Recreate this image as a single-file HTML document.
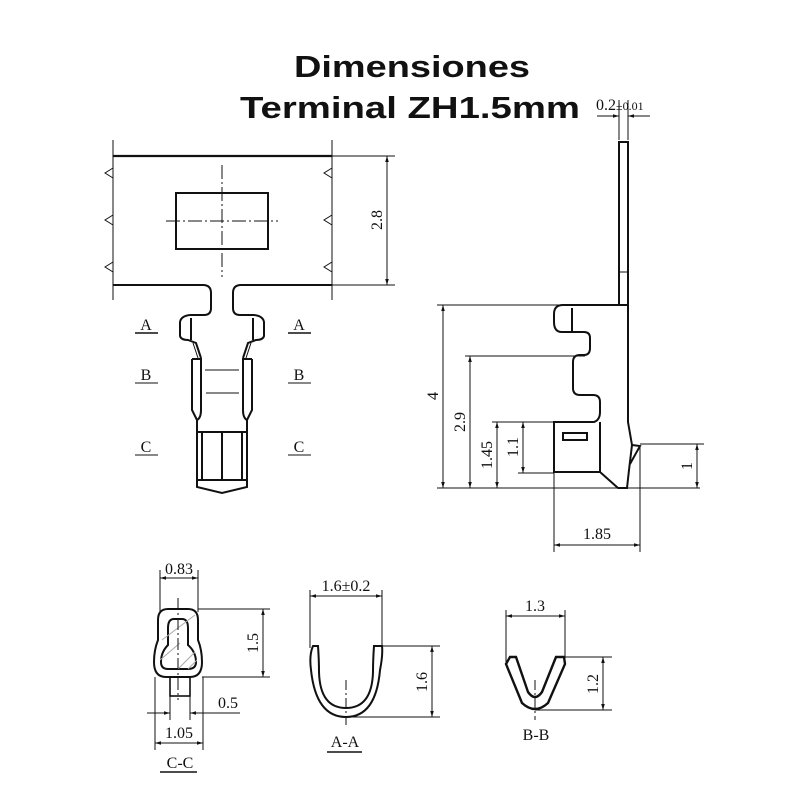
<!DOCTYPE html>
<html><head><meta charset="utf-8"><style>
html,body{margin:0;padding:0;background:#fff;}
svg{display:block;}
.t{font-family:"Liberation Sans",sans-serif;font-weight:bold;fill:#111;}
.d{font-family:"Liberation Serif",serif;font-size:16px;fill:#111;}
</style></head><body>
<svg width="800" height="800" viewBox="0 0 800 800" xmlns="http://www.w3.org/2000/svg">
<defs>
<marker id="a" viewBox="0 0 10 10" refX="10" refY="5" markerWidth="10" markerHeight="6" orient="auto-start-reverse" markerUnits="userSpaceOnUse"><path d="M0,2 L10,5 L0,8 z" fill="#111"/></marker>
</defs>
<rect width="800" height="800" fill="#fff"/>
<text class="t" x="412" y="77" font-size="31" text-anchor="middle" textLength="236" lengthAdjust="spacingAndGlyphs">Dimensiones</text>
<text class="t" x="410" y="118" font-size="31" text-anchor="middle" textLength="340" lengthAdjust="spacingAndGlyphs">Terminal ZH1.5mm</text>

<g fill="none" stroke="#111" stroke-width="1">
<line x1="113" y1="156" x2="332" y2="156" stroke-width="2.2"/>
<path d="M113,140 V300 M332,140 V300"/>
<path d="M113,168 l-8,5 l8,5 M113,215 l-8,5 l8,5 M113,262 l-8,5 l8,5 M332,168 l-8,5 l8,5 M332,215 l-8,5 l8,5 M332,262 l-8,5 l8,5"/>
<rect x="176" y="193" width="92" height="56" stroke-width="2"/>
<path d="M222,165 V277 M166,221 H278" stroke-dasharray="14,3,2,3"/>
<path d="M113,285 H203 Q211,285 211,293 V308 Q211,315 204,315 H190" stroke-width="2"/>
<path d="M332,285 H241 Q233,285 233,293 V308 Q233,315 240,315 H254" stroke-width="2"/>
<path d="M190,315 Q181,316 180,322 V336 Q181,340 188,340 L196,343 L201,358 M191,340 V318" stroke-width="2"/>
<path d="M254,315 Q263,316 264,322 V336 Q263,340 256,340 L248,343 L243,358 M253,340 V318" stroke-width="2"/>
<path d="M193,343 L198,358 M251,343 L246,358"/>
<path d="M192,359 H201 V410 Q201,418 197,420 V432 M252,359 H243 V410 Q243,418 247,420 V432" stroke-width="2"/>
<path d="M192,359 V410 L197,420 M252,359 V410 L247,420" stroke-width="2"/>
<path d="M205,370 H239 M206,393 H239"/>
<path d="M197,420 V487 L222,493 L247,487 V420 M197,432 H247 M202,432 V480 M242,432 V480 M222,432 V480 M197,480 H247" stroke-width="2"/>
<path d="M332,156 H395 M332,285 H395"/>
<line x1="387" y1="156" x2="387" y2="285" marker-start="url(#a)" marker-end="url(#a)"/>
<path d="M135,383 H158 M288,383 H311 M135,455 H158 M288,455 H311"/>
<path d="M135,333 H158 M288,333 H311" stroke-width="1.6"/>

<rect x="619" y="142" width="9" height="163" stroke-width="2"/>
<line x1="619" y1="272" x2="628" y2="272"/>
<path d="M619,100 V140 M628,100 V140"/>
<line x1="597" y1="116" x2="619" y2="116" marker-end="url(#a)"/>
<line x1="650" y1="116" x2="628" y2="116" marker-end="url(#a)"/>
<path d="M563,305 H628 V422 L632,445 L629,470 L627,488 H618 L600,472 H554 V422 H594 Q600,420 600,412 V402 Q600,395 593,395 H580 Q573,395 573,388 V362 Q573,355 580,355 H584 Q590,355 590,348 V338 Q590,332 584,332 H562 Q554,332 554,322 V314 Q554,305 563,305 Z" stroke-width="2"/>
<line x1="572" y1="308" x2="572" y2="331" stroke-width="2"/>
<path d="M632,445 L640,446 L630,464" stroke-width="2"/>
<line x1="600" y1="422" x2="600" y2="472" stroke-width="2"/>
<rect x="563" y="433" width="24" height="7" stroke-width="2"/>
<path d="M437,488 H700 M437,305 H563 M465,356 H585 M492,422 H554 M518,473 H554 M640,444 H704"/>
<line x1="443" y1="305" x2="443" y2="488" marker-start="url(#a)" marker-end="url(#a)"/>
<line x1="470" y1="356" x2="470" y2="488" marker-start="url(#a)" marker-end="url(#a)"/>
<line x1="497" y1="422" x2="497" y2="488" marker-start="url(#a)" marker-end="url(#a)"/>
<line x1="523" y1="422" x2="523" y2="473" marker-start="url(#a)" marker-end="url(#a)"/>
<line x1="697" y1="444" x2="697" y2="488" marker-start="url(#a)" marker-end="url(#a)"/>
<path d="M554,473 V552 M640,446 V552"/>
<line x1="554" y1="545" x2="640" y2="545" marker-start="url(#a)" marker-end="url(#a)"/>

<path d="M168,609 H188 Q198,609 198,620 V640 Q202,650 202,662 Q202,677 190,677 H166 Q154,677 154,662 Q154,650 158,640 V620 Q158,609 168,609 Z" stroke-width="2"/>
<path d="M174,619 H182 Q188,619 188,628 V645 Q196,652 196,662 Q196,669 188,669 H168 Q161,669 161,662 Q161,652 168,645 V628 Q168,619 174,619 Z" stroke-width="2"/>
<path d="M162,640 L195,615 M160,660 L180,643 M188,669 L197,660 M178,669 L195,652" stroke="#aaa"/>
<rect x="170" y="677" width="20" height="19" stroke-width="1.6"/>
<path d="M178,598 V700" stroke-dasharray="12,3,2,3"/>
<path d="M160,570 V612 M198,570 V612 M198,609 H270 M202,677 H270 M170,696 V720 M190,696 V720 M155,677 V750 M203,677 V750"/>
<line x1="160" y1="578" x2="198" y2="578" marker-start="url(#a)" marker-end="url(#a)"/>
<line x1="263" y1="609" x2="263" y2="677" marker-start="url(#a)" marker-end="url(#a)"/>
<path d="M147,713 H170 M190,713 H240"/>
<line x1="150" y1="713" x2="170" y2="713" marker-end="url(#a)"/>
<line x1="210" y1="713" x2="190" y2="713" marker-end="url(#a)"/>
<line x1="155" y1="743" x2="203" y2="743" marker-start="url(#a)" marker-end="url(#a)"/>
<line x1="160" y1="772" x2="197" y2="772" stroke-width="1.6"/>

<path d="M313,646 L318,646 Q319,660 319,672 Q320,708 346,708 Q372,708 373,672 Q373,660 374,646 L382,646 Q383,655 380,670 Q376,717 346,717 Q316,717 311,670 Q309,655 313,646 Z" stroke-width="2"/>
<path d="M346,680 V725" stroke-dasharray="10,3,2,3"/>
<path d="M310,590 V648 M382,590 V648 M382,646 H440 M346,717 H440"/>
<line x1="310" y1="596" x2="382" y2="596" marker-start="url(#a)" marker-end="url(#a)"/>
<line x1="432" y1="646" x2="432" y2="717" marker-start="url(#a)" marker-end="url(#a)"/>
<line x1="327" y1="752" x2="362" y2="752" stroke-width="1.6"/>

<path d="M510,657 L516,657 L528,692 Q535,702 542,692 L556,657 L564,657 L565,664 L548,703 Q535,715 522,703 L506,664 Z" stroke-width="2.4"/>
<path d="M535,680 V720" stroke-dasharray="10,3,2,3"/>
<path d="M506,610 V662 M565,610 V660 M563,657 H612 M535,710 H612"/>
<line x1="506" y1="616" x2="565" y2="616" marker-start="url(#a)" marker-end="url(#a)"/>
<line x1="603" y1="657" x2="603" y2="710" marker-start="url(#a)" marker-end="url(#a)"/>
</g>

<text class="d" x="146" y="330" text-anchor="middle">A</text>
<text class="d" x="299" y="330" text-anchor="middle">A</text>
<text class="d" x="146" y="380" text-anchor="middle">B</text>
<text class="d" x="299" y="380" text-anchor="middle">B</text>
<text class="d" x="146" y="452" text-anchor="middle">C</text>
<text class="d" x="299" y="452" text-anchor="middle">C</text>
<text class="d" transform="translate(382,220) rotate(-90)" text-anchor="middle">2.8</text>
<text class="d" x="596" y="110" font-size="15">0.2<tspan font-size="12">±0.01</tspan></text>
<text class="d" transform="translate(438,396) rotate(-90)" text-anchor="middle">4</text>
<text class="d" transform="translate(465,422) rotate(-90)" text-anchor="middle">2.9</text>
<text class="d" transform="translate(492,455) rotate(-90)" text-anchor="middle">1.45</text>
<text class="d" transform="translate(518,447) rotate(-90)" text-anchor="middle">1.1</text>
<text class="d" transform="translate(692,466) rotate(-90)" text-anchor="middle">1</text>
<text class="d" x="597" y="539" text-anchor="middle">1.85</text>
<text class="d" x="179" y="574" text-anchor="middle">0.83</text>
<text class="d" transform="translate(258,643) rotate(-90)" text-anchor="middle">1.5</text>
<text class="d" x="228" y="708" text-anchor="middle">0.5</text>
<text class="d" x="179" y="738" text-anchor="middle">1.05</text>
<text class="d" x="180" y="768" text-anchor="middle">C-C</text>
<text class="d" x="346" y="591" text-anchor="middle">1.6±0.2</text>
<text class="d" transform="translate(427,682) rotate(-90)" text-anchor="middle">1.6</text>
<text class="d" x="345" y="747" text-anchor="middle">A-A</text>
<text class="d" x="535" y="611" text-anchor="middle">1.3</text>
<text class="d" transform="translate(598,684) rotate(-90)" text-anchor="middle">1.2</text>
<text class="d" x="536" y="740" text-anchor="middle">B-B</text>
</svg>
</body></html>
